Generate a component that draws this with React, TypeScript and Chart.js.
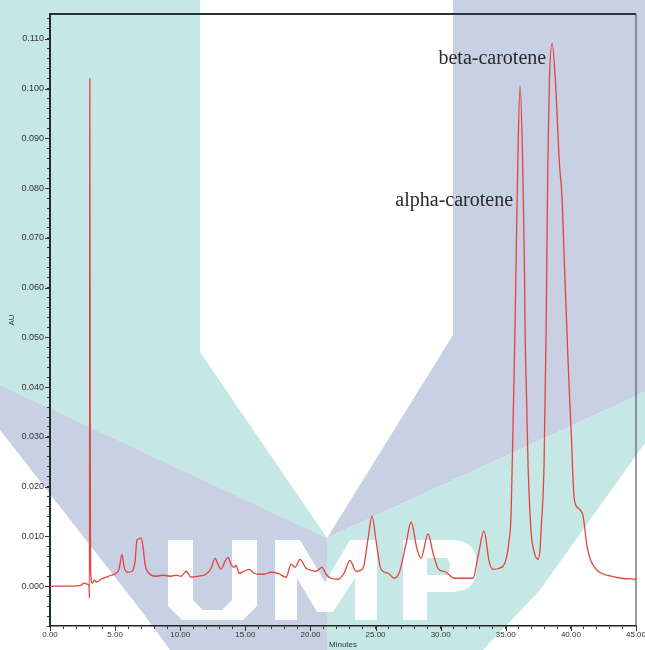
import React, { useEffect, useRef } from "react";
import { Chart, registerables } from "chart.js";

Chart.register(...registerables);

// Retention time (minutes)
const minutes = [
  0, 1.6, 2.4, 2.6, 2.85, 3.0, 3.03, 3.06, 3.09, 3.12,
  3.25, 3.4, 3.6, 3.9, 4.3, 4.7, 5.07, 5.3, 5.53, 5.68,
  5.91, 6.3, 6.53, 6.68, 6.84, 6.99, 7.14, 7.3, 7.6, 8.14,
  8.68, 9.29, 9.7, 10.06, 10.45, 10.83, 11.37, 11.98, 12.37, 12.67,
  12.9, 13.13, 13.44, 13.67, 13.9, 14.13, 14.29, 14.52, 14.9, 15.28,
  15.67, 16.05, 16.44, 16.97, 17.51, 18.13, 18.51, 18.82, 19.2, 19.66,
  20.05, 20.43, 20.89, 21.2, 21.58, 22.12, 22.58, 23.04, 23.5, 24.04,
  24.42, 24.73, 25.04, 25.42, 25.96, 26.42, 26.8, 27.34, 27.73, 28.19,
  28.49, 29.03, 29.42, 29.8, 30.41, 31.03, 31.8, 32.49, 32.87, 33.33,
  33.72, 34.02, 34.49, 35.02, 35.25, 35.41, 35.52, 35.71, 35.79, 35.92,
  36.1, 36.3, 36.43, 36.48, 36.6, 36.71, 36.94, 37.17, 37.48, 37.63,
  37.71, 37.94, 38.1, 38.15, 38.23, 38.35, 38.56, 38.81, 39.12, 39.32,
  39.5, 39.69, 39.79, 40.02, 40.25, 40.55, 40.78, 40.94, 41.24, 41.55,
  41.94, 42.32, 43.09, 43.86, 45.0,
];

// Absorbance (AU)
const absorbance = [
  0, 0, 0.0002, 0.0006, 0.0004, 0, -0.0024, 0.102, 0.0245, 0.003,
  0.0006, 0.0012, 0.0008, 0.0014, 0.0018, 0.0022, 0.0026, 0.0034, 0.0064, 0.004,
  0.0028, 0.003, 0.005, 0.0093, 0.0095, 0.0097, 0.008, 0.0044, 0.0026, 0.002,
  0.0022, 0.002, 0.0022, 0.002, 0.003, 0.0018, 0.002, 0.0024, 0.0036, 0.0056,
  0.0044, 0.0034, 0.005, 0.0058, 0.0044, 0.0038, 0.0042, 0.0026, 0.003, 0.0034,
  0.0026, 0.0024, 0.0024, 0.0028, 0.0026, 0.0018, 0.0044, 0.0038, 0.0054, 0.0036,
  0.0032, 0.003, 0.0038, 0.0024, 0.0016, 0.0014, 0.0026, 0.0052, 0.003, 0.0036,
  0.0095, 0.0141, 0.0091, 0.0034, 0.0026, 0.0016, 0.0026, 0.0085, 0.0129, 0.0074,
  0.0056, 0.0105, 0.0066, 0.0036, 0.0028, 0.0016, 0.0016, 0.0016, 0.006, 0.0111,
  0.005, 0.0034, 0.0036, 0.0054, 0.0091, 0.0145, 0.0278, 0.0519, 0.0648, 0.0849,
  0.1006, 0.0849, 0.0648, 0.0519, 0.0372, 0.0245, 0.0111, 0.007, 0.0054, 0.0074,
  0.0111, 0.0245, 0.0519, 0.0648, 0.0849, 0.1016, 0.1091, 0.1016, 0.0849, 0.0781,
  0.0648, 0.0519, 0.0447, 0.0312, 0.0177, 0.0157, 0.0151, 0.0141, 0.008, 0.005,
  0.0034, 0.0026, 0.002, 0.0016, 0.0014,
];

// Peak annotations (text right edge at minute, baseline at AU)
const peakNames = ["alpha-carotene", "beta-carotene"];
const peakLabelMinutes = [35.56, 38.1];
const peakLabelAU = [0.0765, 0.105];

// Axis settings
const xMin = 0;
const xMax = 45;
const xMinorStep = 1;
const xLabelStep = 5;
const yMin = -0.008;
const yMax = 0.115;
const yMinorStep = 0.002;
const yLabelStep = 0.01;

const TEAL = "#c5e8e6";
const LAVENDER = "#c8d0e4";

const watermarkPlugin = {
  id: "watermark",
  beforeDraw(chart: any) {
    const { ctx, width, height } = chart;
    const sx = width / 645;
    const sy = height / 650;
    const poly = (pts: number[][], color: string) => {
      ctx.beginPath();
      pts.forEach(([x, y], i) => {
        if (i === 0) ctx.moveTo(x * sx, y * sy);
        else ctx.lineTo(x * sx, y * sy);
      });
      ctx.closePath();
      ctx.fillStyle = color;
      ctx.fill();
    };
    ctx.save();
    ctx.fillStyle = "#ffffff";
    ctx.fillRect(0, 0, width, height);
    poly([[0, 0], [200, 0], [200, 352], [327, 538], [0, 385]], TEAL);
    poly([[453, 0], [645, 0], [645, 392], [327, 538], [453, 335]], LAVENDER);
    poly([[0, 385], [327, 538], [327, 650], [170, 650], [143, 613], [0, 430]], LAVENDER);
    poly([[327, 538], [645, 392], [645, 443], [540, 590], [483, 650], [327, 650]], TEAL);

    ctx.fillStyle = "#fdfdfe";
    const path = (pts: number[][]) => {
      ctx.beginPath();
      pts.forEach(([x, y], i) => {
        if (i === 0) ctx.moveTo(x * sx, y * sy);
        else ctx.lineTo(x * sx, y * sy);
      });
      ctx.closePath();
      ctx.fill();
    };
    path([[168, 540], [193, 540], [193, 600], [203, 610], [222, 610], [232, 600], [232, 540], [257, 540], [257, 606], [243, 620], [182, 620], [168, 606]]);
    path([[275, 620], [275, 540], [300, 540], [325, 582], [350, 540], [377, 540], [377, 620], [355, 620], [355, 578], [333, 612], [317, 612], [297, 578], [297, 620]]);
    ctx.beginPath();
    ctx.moveTo(403 * sx, 620 * sy);
    ctx.lineTo(403 * sx, 540 * sy);
    ctx.lineTo(452 * sx, 540 * sy);
    ctx.quadraticCurveTo(477 * sx, 540 * sy, 477 * sx, 566 * sy);
    ctx.quadraticCurveTo(477 * sx, 592 * sy, 452 * sx, 592 * sy);
    ctx.lineTo(427 * sx, 592 * sy);
    ctx.lineTo(427 * sx, 620 * sy);
    ctx.closePath();
    ctx.moveTo(427 * sx, 558 * sy);
    ctx.lineTo(447 * sx, 558 * sy);
    ctx.quadraticCurveTo(453 * sx, 566 * sy, 447 * sx, 575 * sy);
    ctx.lineTo(427 * sx, 575 * sy);
    ctx.closePath();
    ctx.fill("evenodd");
    ctx.restore();
  },
};

const isMultiple = (v: number, step: number) => {
  const k = v / step;
  return Math.abs(k - Math.round(k)) < 1e-6;
};

const framePlugin = {
  id: "frame",
  afterDraw(chart: any) {
    const { ctx, chartArea, scales } = chart;
    ctx.save();
    ctx.strokeStyle = "#24343a";
    ctx.lineWidth = 2;
    ctx.beginPath();
    ctx.moveTo(chartArea.left, chartArea.top);
    ctx.lineTo(chartArea.right, chartArea.top);
    ctx.stroke();
    ctx.strokeStyle = "#555a66";
    ctx.lineWidth = 1.2;
    ctx.beginPath();
    ctx.moveTo(chartArea.right, chartArea.top);
    ctx.lineTo(chartArea.right, chartArea.bottom);
    ctx.stroke();
    ctx.strokeStyle = "#333";
    ctx.lineWidth = 1;
    ctx.beginPath();
    scales.y.ticks.forEach((t: any) => {
      if (isMultiple(t.value, yLabelStep)) {
        const y = Math.round(scales.y.getPixelForValue(t.value)) + 0.5;
        ctx.moveTo(chartArea.left - 5, y);
        ctx.lineTo(chartArea.left, y);
      }
    });
    scales.x.ticks.forEach((t: any) => {
      if (isMultiple(t.value, xLabelStep)) {
        const x = Math.round(scales.x.getPixelForValue(t.value)) + 0.5;
        ctx.moveTo(x, chartArea.bottom);
        ctx.lineTo(x, chartArea.bottom + 5);
      }
    });
    ctx.stroke();
    ctx.restore();
  },
};

const peakLabelPlugin = {
  id: "peakLabels",
  afterDatasetsDraw(chart: any) {
    const { ctx, scales } = chart;
    ctx.save();
    ctx.font = '20px "Liberation Serif", "Times New Roman", serif';
    ctx.fillStyle = "#2a2a2a";
    ctx.textAlign = "right";
    ctx.textBaseline = "alphabetic";
    peakNames.forEach((name, i) => {
      const x = scales.x.getPixelForValue(peakLabelMinutes[i]);
      const y = scales.y.getPixelForValue(peakLabelAU[i]);
      ctx.fillText(name, x, y);
    });
    ctx.restore();
  },
};

export default function App() {
  const ref = useRef<HTMLCanvasElement>(null);
  useEffect(() => {
    document.body.style.margin = "0";
    const axisFont = { family: '"Liberation Sans", Arial, sans-serif', size: 8.5 };
    const chart = new Chart(ref.current as HTMLCanvasElement, {
      type: "line",
      data: {
        datasets: [
          {
            data: minutes.map((t, i) => ({ x: t, y: absorbance[i] })),
            borderColor: "#e2443e",
            borderWidth: 1.3,
            pointRadius: 0,
            cubicInterpolationMode: "monotone",
            fill: false,
          },
        ],
      },
      options: {
        animation: false,
        responsive: false,
        devicePixelRatio: 1,
        layout: { padding: { top: 14, right: 9, left: 0, bottom: 0 } },
        plugins: {
          legend: { display: false },
          tooltip: { enabled: false },
        },
        scales: {
          x: {
            type: "linear",
            position: "bottom",
            min: xMin,
            max: xMax,
            afterFit: (s: any) => {
              s.height = 24;
              s.paddingLeft = 0;
              s.paddingRight = 0;
            },
            ticks: {
              stepSize: xMinorStep,
              autoSkip: false,
              includeBounds: false,
              maxRotation: 0,
              minRotation: 0,
              padding: 1,
              color: "#333",
              font: { ...axisFont, size: 8 },
              callback: (v: any) => (isMultiple(Number(v), xLabelStep) ? Number(v).toFixed(2) : ""),
            },
            grid: { drawOnChartArea: false, drawTicks: true, tickLength: 3, color: "#333" },
            border: { color: "#222", width: 1.6 },
            title: {
              display: true,
              text: "Minutes",
              color: "#333",
              font: { ...axisFont, size: 8 },
              padding: { top: -1, bottom: 0 },
            },
          },
          y: {
            type: "linear",
            min: yMin,
            max: yMax,
            afterFit: (s: any) => {
              s.width = 50;
              s.paddingTop = 0;
              s.paddingBottom = 0;
            },
            ticks: {
              stepSize: yMinorStep,
              autoSkip: false,
              includeBounds: false,
              padding: 3,
              color: "#333",
              font: { ...axisFont, size: 9 },
              callback: (v: any) => {
                const n = Number(v);
                if (!isMultiple(n, yLabelStep)) return "";
                return Math.abs(n) < 1e-9 ? "0.000" : n.toFixed(3);
              },
            },
            grid: { drawOnChartArea: false, drawTicks: true, tickLength: 3, color: "#333" },
            border: { color: "#1e2e30", width: 2 },
            title: {
              display: true,
              text: "AU",
              color: "#333",
              font: { ...axisFont, size: 8 },
              padding: { top: 7, bottom: 0 },
            },
          },
        },
      },
      plugins: [watermarkPlugin, framePlugin, peakLabelPlugin],
    } as any);
    return () => chart.destroy();
  }, []);
  return (
    <div style={{ width: 645, height: 650 }}>
      <canvas ref={ref} width={645} height={650} style={{ display: "block" }} />
    </div>
  );
}
